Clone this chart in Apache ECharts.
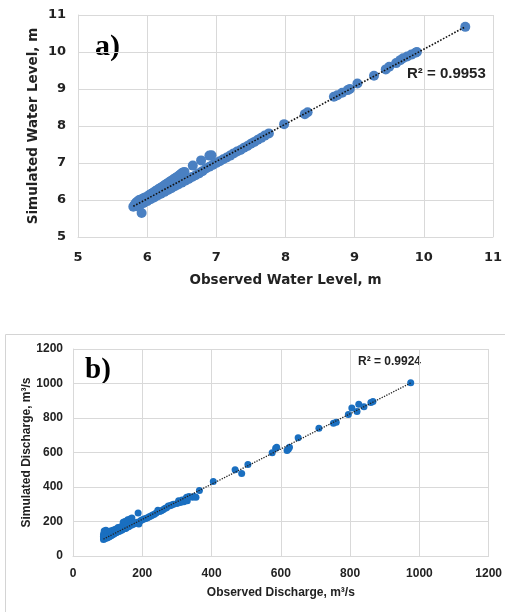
<!DOCTYPE html>
<html>
<head>
<meta charset="utf-8">
<script src="https://cdn.jsdelivr.net/npm/echarts@6/dist/echarts.min.js"></script>
<style>
  html, body { margin: 0; padding: 0; background: #fff; }
  #main { width: 505px; height: 612px; }
</style>
</head>
<body>
<div id="main"></div>
<script>
// a) water level, observed vs simulated (m)
var levelPoints = [
  [5.80,5.82],[5.82,5.88],[5.84,5.93],[5.86,5.96],[5.88,5.99],[5.90,6.01],[5.92,5.65],[5.93,6.03],
  [5.95,6.05],[5.97,6.07],[6.00,6.09],[6.02,6.12],[6.04,6.14],[6.06,6.17],[6.08,6.19],[6.10,6.21],
  [6.12,6.24],[6.14,6.26],[6.16,6.29],[6.18,6.31],[6.20,6.33],[6.22,6.36],[6.24,6.38],[6.26,6.41],
  [6.28,6.43],[6.30,6.46],[6.32,6.48],[6.34,6.51],[6.36,6.53],[6.38,6.56],[6.40,6.58],[6.42,6.61],
  [6.44,6.63],[6.46,6.66],[6.48,6.69],[6.50,6.72],[6.52,6.74],[6.54,6.76],
  [5.85,5.83],[5.90,5.87],[5.95,5.92],[6.00,5.97],[6.05,6.02],[6.10,6.07],[6.15,6.12],[6.20,6.17],
  [6.25,6.22],[6.30,6.27],[6.35,6.32],[6.40,6.37],[6.45,6.42],[6.50,6.47],[6.55,6.52],[6.60,6.57],
  [6.65,6.62],[6.66,6.93],[6.78,7.07],[6.90,7.20],[6.93,7.21],
  [6.70,6.67],[6.75,6.72],[6.80,6.78],[6.85,6.85],[6.90,6.90],[6.95,6.95],[7.00,7.00],[7.05,7.05],
  [7.10,7.10],[7.15,7.15],[7.20,7.20],[7.25,7.26],[7.30,7.31],[7.35,7.35],[7.40,7.41],[7.45,7.46],
  [7.50,7.52],[7.55,7.57],[7.60,7.63],[7.65,7.68],[7.70,7.74],[7.76,7.80],
  [7.98,8.05],[8.28,8.32],[8.32,8.37],[8.70,8.79],[8.75,8.83],[8.82,8.90],[8.90,8.97],[8.93,9.00],
  [9.04,9.15],[9.28,9.36],[9.45,9.53],[9.50,9.60],[9.60,9.70],[9.66,9.78],[9.70,9.83],[9.76,9.88],
  [9.82,9.93],[9.88,9.98],[9.90,10.00],[10.60,10.68]
]
var levelTrend = [[5.80,5.83],[10.60,10.68]]
var levelRange = [5, 11]

// b) discharge, observed vs simulated (m3/s)
var flowPoints = [
  [88,95],[88,105],[88,115],[88,125],[90,135],[90,145],[92,100],[92,120],[95,150],[95,110],
  [98,105],[100,140],[100,115],[102,108],[105,112],[108,145],[110,118],[112,122],[115,150],[115,125],
  [118,128],[120,132],[122,155],[125,135],[128,140],[130,165],[132,142],[135,145],[138,170],[140,150],
  [142,152],[145,195],[148,158],[150,200],[152,160],[155,165],[158,210],[160,170],[162,172],[165,215],
  [168,178],[170,220],[172,182],[175,185],[180,190],[185,195],[188,250],[190,185],[195,205],[200,210],
  [205,215],[210,218],[215,222],[220,228],[225,232],[230,238],[235,242],[240,250],[245,265],[250,258],
  [255,262],[260,268],[265,275],[270,280],[275,290],[280,292],[285,295],[290,300],[300,305],[305,320],
  [310,310],[315,325],[320,315],[325,330],[328,340],[330,320],[335,345],[345,340],[350,345],[355,340],
  [365,380],[405,432],[468,500],[487,478],[505,530],[575,598],[585,625],[588,630],[618,612],[622,620],
  [625,630],[650,685],[710,740],[752,770],[760,775],[795,820],[805,858],[820,838],[825,880],[840,865],
  [860,890],[866,895],[975,1005]
]
var flowTrend = [[88,98],[975,1003]]
var flowRange = [0, 1200]

var gridColor = '#d9d9d9'

function axisStyle(family, size, nameSize, margin) {
  return {
    axisLine: { show: true, lineStyle: { color: gridColor } },
    axisTick: { show: false },
    splitLine: { show: true, lineStyle: { color: gridColor } },
    axisLabel: { color: '#222', fontFamily: family, fontWeight: 'bold', fontSize: size, margin: margin,
      formatter: function (v) { return String(v) } },
    nameLocation: 'middle',
    nameMoveOverlap: false,
    nameTextStyle: { color: '#222', fontFamily: family, fontWeight: 'bold', fontSize: nameSize }
  }
}

var myChart = echarts.init(document.getElementById('main'))

var option = {
  animation: false,
  grid: [
    { left: 78, top: 15, width: 416, height: 222 },
    { left: 73, top: 349, width: 420, height: 207 }
  ],
  xAxis: [
    Object.assign(axisStyle('DejaVu Sans', 13, 13.5, 14), {
      type: 'value', gridIndex: 0, min: levelRange[0], max: levelRange[1], interval: 1,
      name: 'Observed Water Level, m', nameGap: 36
    }),
    Object.assign(axisStyle('Liberation Sans', 12, 12, 12), {
      type: 'value', gridIndex: 1, min: flowRange[0], max: flowRange[1], interval: 200,
      name: 'Observed Discharge, m³/s', nameGap: 31
    })
  ],
  yAxis: [
    Object.assign(axisStyle('DejaVu Sans', 13, 13.5, 12), {
      type: 'value', gridIndex: 0, min: levelRange[0], max: levelRange[1], interval: 1,
      name: 'Simulated Water Level, m', nameGap: 38
    }),
    Object.assign(axisStyle('Liberation Sans', 12, 12, 10), {
      type: 'value', gridIndex: 1, min: flowRange[0], max: flowRange[1], interval: 200,
      name: 'Simulated Discharge, m³/s', nameGap: 40
    })
  ],
  series: [
    {
      type: 'scatter', xAxisIndex: 0, yAxisIndex: 0, data: levelPoints,
      symbolSize: 10, itemStyle: { color: '#4a80c2', opacity: 1 }
    },
    {
      type: 'line', xAxisIndex: 0, yAxisIndex: 0, data: levelTrend, symbol: 'none',
      lineStyle: { color: '#111', width: 1.6, type: 'dotted' }, z: 3
    },
    {
      type: 'scatter', xAxisIndex: 1, yAxisIndex: 1, data: flowPoints,
      symbolSize: 7, itemStyle: { color: '#1a6fc0', opacity: 1 }
    },
    {
      type: 'line', xAxisIndex: 1, yAxisIndex: 1, data: flowTrend, symbol: 'none',
      lineStyle: { color: '#222', width: 1.3, type: 'dotted' }, z: 3
    }
  ],
  graphic: [
    { type: 'rect', shape: { x: 5.5, y: 334.5, width: 560, height: 320 },
      style: { fill: 'none', stroke: '#d4d4d4', lineWidth: 1 }, z: -1 },
    { type: 'text', x: 95, y: 32,
      style: { text: 'a)', font: 'bold 30px "Liberation Serif"', fill: '#000' } },
    { type: 'text', x: 407, y: 66,
      style: { text: 'R² = 0.9953', font: 'bold 15px "Liberation Sans"', fill: '#222' } },
    { type: 'text', x: 85, y: 356,
      style: { text: 'b)', font: 'bold 29px "Liberation Serif"', fill: '#000' } },
    { type: 'text', x: 358, y: 356,
      style: { text: 'R² = 0.9924', font: 'bold 12px "Liberation Sans"', fill: '#222' } }
  ]
}

myChart.setOption(option)
</script>
</body>
</html>
